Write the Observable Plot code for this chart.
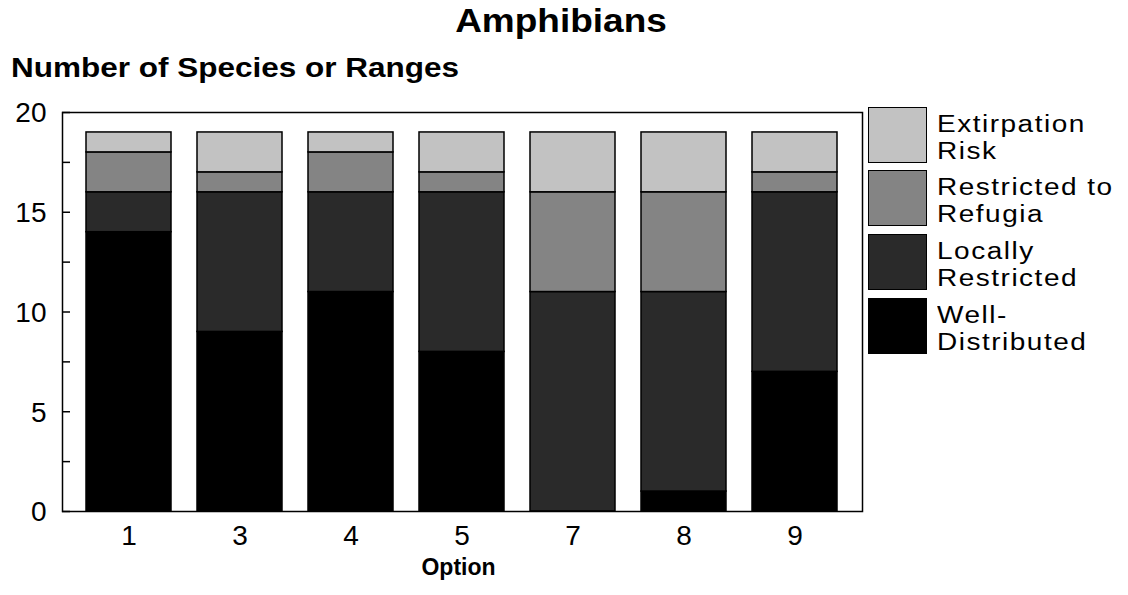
<!DOCTYPE html>
<html>
<head>
<meta charset="utf-8">
<script src="https://cdn.jsdelivr.net/npm/d3@7"></script>
<script src="https://cdn.jsdelivr.net/npm/@observablehq/plot@0.6"></script>
<style>
  body { margin: 0; background: #fff; font-family: "Liberation Sans", Arial, sans-serif; }
  #wrap { position: relative; width: 1128px; height: 595px; overflow: hidden; background: #fff; }
  #wrap svg { position: absolute; left: 0; top: 0; }
  .t { position: absolute; white-space: nowrap; color: #000; line-height: 1; }
  .title { font-size: 37px; font-weight: bold; }
  .ytitle { font-size: 31.5px; font-weight: bold; }
  .xtitle { font-size: 23px; font-weight: bold; }
  .leg { position: absolute; left: 868px; top: 0; }
  .leg .box { position: absolute; left: 0; width: 59px; height: 56px; border: 1.5px solid #000; box-sizing: border-box; }
  .leg .lab { position: absolute; left: 69px; font-size: 28px; letter-spacing: 1.5px; line-height: 31px; height: 31px; white-space: nowrap; transform-origin: 0 0; transform: scaleY(0.88); }
</style>
</head>
<body>
<div id="wrap"></div>
<script>
// ---- data ----
const options = ["1", "3", "4", "5", "7", "8", "9"];
const categories = ["Well-Distributed", "Locally Restricted", "Restricted to Refugia", "Extirpation Risk"];
const wellDistributed     = [14, 9, 11, 8, 0, 1, 7];
const locallyRestricted   = [2, 7, 5, 8, 11, 10, 9];
const restrictedToRefugia = [2, 1, 2, 1, 5, 5, 1];
const extirpationRisk     = [1, 2, 1, 2, 3, 3, 2];
const yTicks = [0, 5, 10, 15, 20];
const yMinorTicks = [0, 2.5, 5, 7.5, 10, 12.5, 15, 17.5, 20];
const legendLines = [["Extirpation", "Risk"], ["Restricted to", "Refugia"], ["Locally", "Restricted"], ["Well-", "Distributed"]];
const grays = ["#000000", "#2a2a2a", "#848484", "#c2c2c2"];

// tidy table
const series = [wellDistributed, locallyRestricted, restrictedToRefugia, extirpationRisk];
const table = [];
categories.forEach((c, ci) => options.forEach((o, oi) => table.push({option: o, category: c, count: series[ci][oi]})));

const wrap = document.getElementById("wrap");

const chart = Plot.plot({
  width: 1128,
  height: 595,
  marginLeft: 62,
  marginRight: 266,
  marginTop: 112,
  marginBottom: 84,
  style: {fontFamily: "'Liberation Sans', Arial, sans-serif", fontSize: "28px", color: "#000", background: "transparent"},
  x: {domain: options, paddingInner: 0.234, paddingOuter: 0.22, label: null},
  y: {domain: [0, 20], label: null},
  color: {domain: categories, range: grays},
  marks: [
    Plot.barY(table, {x: "option", y: "count", fill: "category", order: categories, stroke: "#000", strokeWidth: 1.5}),
    Plot.frame({stroke: "#000", strokeWidth: 1.5}),
    Plot.axisY({ticks: yMinorTicks, tickSize: 8, dx: 8, tickFormat: () => "", strokeWidth: 1.5}),
    Plot.axisY({ticks: yTicks, tickSize: 0, tickPadding: 16, dy: 1, fontSize: 28}),
    Plot.axisX({tickSize: 0, tickPadding: 14, fontSize: 28})
  ]
});
wrap.appendChild(chart);

function addText(txt, cls, left, top, center, squash) {
  const d = document.createElement("div");
  d.className = "t " + cls;
  d.textContent = txt;
  d.style.top = top + "px";
  d.style.left = left + "px";
  const tf = [];
  if (center) tf.push("translateX(-50%)");
  if (squash) tf.push("scaleY(0.88)");
  d.style.transformOrigin = "0 0";
  d.style.transform = tf.join(" ");
  wrap.appendChild(d);
}
addText("Amphibians", "title", 561, 5.4, true, true);
addText("Number of Species or Ranges", "ytitle", 11, 53.5, false, true);
addText("Option", "xtitle", 458.5, 555.5, true, false);

// legend
const legTops = [107, 170, 234, 298];
const lineStep = 27.5;
const legendColors = [grays[3], grays[2], grays[1], grays[0]];
const leg = document.createElement("div");
leg.className = "leg";
legendLines.forEach((lines, i) => {
  const b = document.createElement("div");
  b.className = "box";
  b.style.top = legTops[i] + "px";
  b.style.background = legendColors[i];
  leg.appendChild(b);
  lines.forEach((line, j) => {
    const l = document.createElement("div");
    l.className = "lab";
    l.style.top = (legTops[i] + 2.5 + j * lineStep) + "px";
    l.textContent = line;
    leg.appendChild(l);
  });
});
wrap.appendChild(leg);
</script>
</body>
</html>
